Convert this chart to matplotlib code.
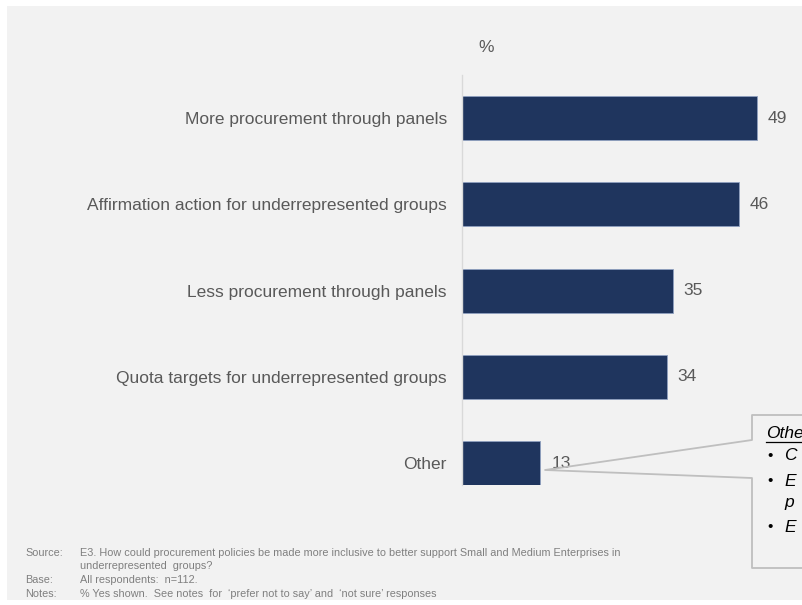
import matplotlib

matplotlib.use("Agg")
import matplotlib.pyplot as plt  # noqa: E402
from matplotlib.patches import Rectangle  # noqa: E402
from matplotlib.lines import Line2D  # noqa: E402

W, H = 803, 605

categories = [
    "More procurement through panels",
    "Affirmation action for underrepresented groups",
    "Less procurement through panels",
    "Quota targets for underrepresented groups",
    "Other",
]
values = [49, 46, 35, 34, 13]

callout_title = "Other"
callout_lines = [("\u2022", "C"), ("\u2022", "E"), ("", "p"), ("\u2022", "E")]

note_labels = ["Source:", "", "Base:", "Notes:"]
note_texts = [
    "E3. How could procurement policies be made more inclusive to better support Small and Medium Enterprises in",
    "underrepresented  groups?",
    "All respondents:  n=112.",
    "% Yes shown.  See notes  for  \u2018prefer not to say\u2019 and  \u2018not sure\u2019 responses",
]

BAR = "#1f355e"
TEXT = "#595959"
BG = "#f2f2f2"
EDGE = "#bfbfbf"

plt.rcParams["font.family"] = ["Liberation Sans", "DejaVu Sans"]


def fx(px):
    return px / W


def fy(py):
    return 1 - py / H


fig = plt.figure(figsize=(W / 100, H / 100), dpi=100, facecolor="white")
fig.patches.append(Rectangle((fx(7), fy(600)), fx(W) - fx(7), fy(6) - fy(600),
                             transform=fig.transFigure, facecolor=BG,
                             edgecolor="none", zorder=-10))

# plot area: zero line at x=462, about 6.02 px per percentage point
ax = fig.add_axes([fx(462), fy(485), fx(W) - fx(462), fy(75) - fy(485)])
ax.set_facecolor("none")
ypos = list(range(len(categories)))
ax.barh(ypos, values, height=0.51, color=BAR, edgecolor="#8ea0c0", linewidth=0.6)
ax.set_xlim(0, (W - 462) / 6.02)
ax.set_ylim(4.255, -0.5)
ax.set_yticks(ypos)
ax.set_yticklabels(categories, fontsize=12.5, color=TEXT)
ax.tick_params(axis="y", length=0, pad=10.8)
ax.set_xticks([])
for side in ("top", "right", "bottom"):
    ax.spines[side].set_visible(False)
ax.spines["left"].set_color("#d9d9d9")
ax.spines["left"].set_linewidth(1.0)

for y, v in zip(ypos, values):
    ax.annotate(f"{v}", (v, y), xytext=(8, 0), textcoords="offset points",
                ha="left", va="center", fontsize=12.5, color=TEXT)

fig.text(fx(486), fy(47), "%", ha="center", va="center", fontsize=12.5, color=TEXT)

# callout box with pointer to the "Other" bar
tip = (545, 470)
box_pts = [(W + 5, 415), (752, 415), (752, 440), tip, (752, 478), (752, 568), (W + 5, 568)]
fig.lines.append(Line2D([fx(p[0]) for p in box_pts], [fy(p[1]) for p in box_pts],
                        transform=fig.transFigure, color=EDGE, linewidth=1.3, zorder=5))
fig.text(fx(766), fy(433), callout_title, ha="left", va="center", fontsize=12.5,
         style="italic", color="black")
fig.lines.append(Line2D([fx(766), fx(W)], [fy(442), fy(442)], transform=fig.transFigure,
                        color="black", linewidth=0.9))
for (bullet, txt), py in zip(callout_lines, [456, 481, 503, 527]):
    if bullet:
        fig.text(fx(770), fy(py), bullet, ha="center", va="center", fontsize=11, color="black")
    fig.text(fx(784), fy(py), txt, ha="left", va="center", fontsize=12.5,
             style="italic", color="black")

# footnotes
for label, txt, py in zip(note_labels, note_texts, [553, 566, 580, 594]):
    fig.text(fx(25), fy(py), label, ha="left", va="center", fontsize=7.8, color="#7f7f7f")
    fig.text(fx(80), fy(py), txt, ha="left", va="center", fontsize=7.8, color="#7f7f7f")

fig.savefig("out.png", dpi=100, facecolor=fig.get_facecolor())
